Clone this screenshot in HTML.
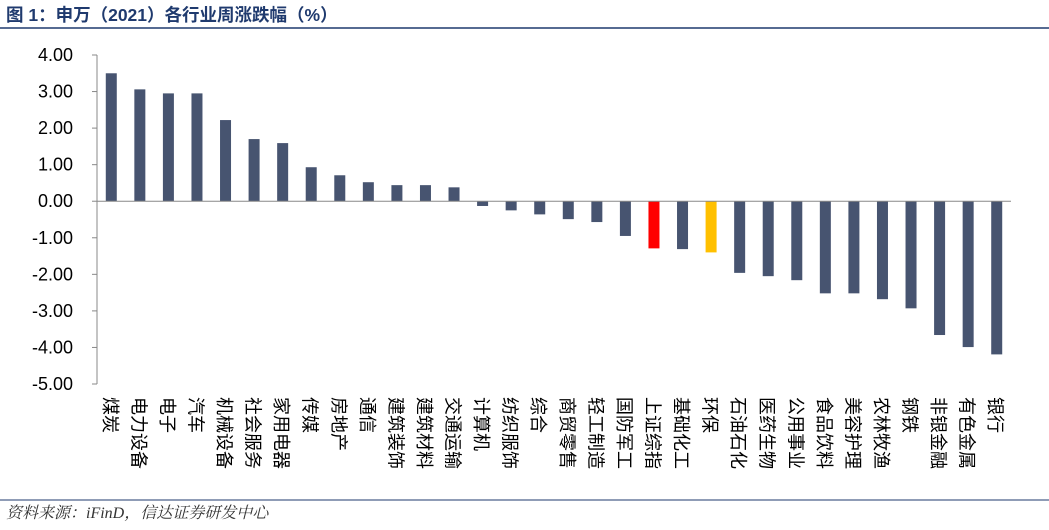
<!DOCTYPE html>
<html><head><meta charset="utf-8">
<style>
body{margin:0;background:#fff;width:1049px;height:525px;overflow:hidden;font-family:"Liberation Sans","Noto Sans CJK SC",sans-serif;}
</style></head>
<body>
<svg width="1049" height="525" xmlns="http://www.w3.org/2000/svg">
<text x="6" y="21" font-size="17.5" font-weight="bold" fill="#1f3a6e" font-family="Liberation Sans, Noto Sans CJK SC, sans-serif">图 1：申万（2021）各行业周涨跌幅（%）</text>
<line x1="0" y1="28" x2="1049" y2="28" stroke="#1f3a6e" stroke-width="1.5"/>
<g id="plot"></g>
<line x1="0" y1="500" x2="1049" y2="500" stroke="#1f3a6e" stroke-width="1"/>
<text x="6" y="518" font-size="16" font-style="italic" fill="#333" font-family="Liberation Serif, Noto Serif CJK SC, serif">资料来源：iFinD，信达证券研发中心</text>
</svg>
<script>
const categories=["煤炭","电力设备","电子","汽车","机械设备","社会服务","家用电器","传媒","房地产","通信","建筑装饰","建筑材料","交通运输","计算机","纺织服饰","综合","商贸零售","轻工制造","国防军工","上证综指","基础化工","环保","石油石化","医药生物","公用事业","食品饮料","美容护理","农林牧渔","钢铁","非银金融","有色金属","银行"];
const values=[3.50,3.06,2.95,2.95,2.22,1.70,1.59,0.93,0.71,0.52,0.44,0.44,0.38,-0.13,-0.25,-0.36,-0.49,-0.57,-0.95,-1.29,-1.31,-1.40,-1.96,-2.05,-2.16,-2.52,-2.52,-2.68,-2.93,-3.66,-3.99,-4.19];
const tickValues=[4,3,2,1,0,-1,-2,-3,-4,-5];
const tickLabels=["4.00","3.00","2.00","1.00","0.00","-1.00","-2.00","-3.00","-4.00","-5.00"];
const NS="http://www.w3.org/2000/svg";
const g=document.getElementById('plot');
const yMax=4,yMin=-5,plotTop=55,plotBot=384;
const y=v=>plotTop+(yMax-v)/(yMax-yMin)*(plotBot-plotTop);
const x0=97,x1=1011,step=(x1-x0)/categories.length;
const xc=i=>x0+step*(i+0.5);
function mk(t,a){const e=document.createElementNS(NS,t);for(const k in a)e.setAttribute(k,a[k]);g.appendChild(e);return e;}
tickValues.forEach((v,i)=>{
 const t=mk('text',{x:73,y:y(v)+6,'text-anchor':'end','font-size':18,fill:'#000'});
 t.textContent=tickLabels[i];
 
 
 const l=mk('line',{x1:x0-5,x2:x0,y1:y(v),y2:y(v),stroke:'#888'});
 
 
});
const ax=mk('line',{x1:x0,x2:x0,y1:plotTop,y2:plotBot,stroke:'#888'});


values.forEach((v,i)=>{
 const c=categories[i]==="上证综指"?"#ff0000":categories[i]==="环保"?"#ffc000":"#475470";
 const r=mk('rect',{x:xc(i)-5.5,width:11,y:Math.min(y(v),y(0)),height:Math.abs(y(v)-y(0)),fill:c});
 
 
 const lx=xc(i)-7.5,ly=397;
 const t=mk('text',{x:lx,y:ly,'font-size':18,fill:'#000','text-anchor':'start',transform:`rotate(90 ${lx} ${ly})`});
 t.textContent=categories[i];
 
 
});
const zl=mk('line',{x1:x0,x2:x1,y1:y(0),y2:y(0),stroke:'#888'});


</script>
</body></html>
